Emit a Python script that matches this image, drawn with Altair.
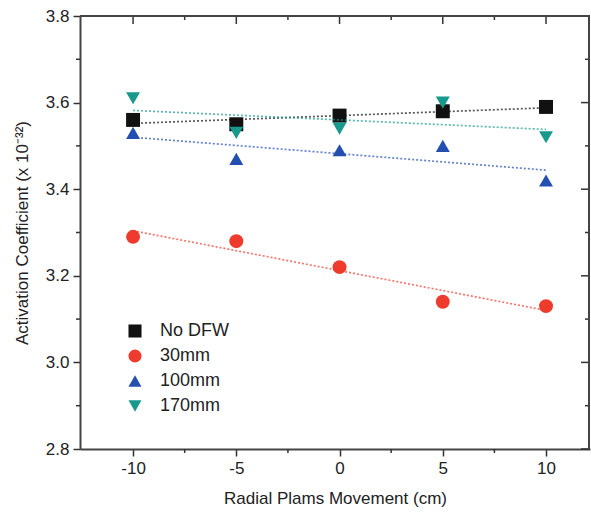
import altair as alt
import pandas as pd

x_vals = [-10, -5, 0, 5, 10]
series_names = ["No DFW", "30mm", "100mm", "170mm"]
no_dfw = [3.56, 3.55, 3.57, 3.58, 3.59]
mm30 = [3.29, 3.28, 3.22, 3.14, 3.13]
mm100 = [3.53, 3.47, 3.49, 3.50, 3.42]
mm170 = [3.61, 3.53, 3.54, 3.60, 3.52]
colors = ["#111111", "#ee3b2e", "#2350b0", "#17998c"]
shapes = ["square", "circle", "triangle-up", "triangle-down"]

rows = []
for name, vals in zip(series_names, [no_dfw, mm30, mm100, mm170]):
    for xv, yv in zip(x_vals, vals):
        rows.append({"x": xv, "y": yv, "series": name})
df = pd.DataFrame(rows)

FONT = "Liberation Sans"
W, H = 510, 433
xscale = alt.Scale(domain=[-12.57, 12.13], nice=False, zero=False)
yscale = alt.Scale(domain=[2.8, 3.8], nice=False, zero=False)
cscale = alt.Scale(domain=series_names, range=colors)
sscale = alt.Scale(domain=series_names, range=shapes)

leg = alt.Legend(title=None, orient="none", legendX=46, legendY=306)

points = alt.Chart(df).mark_point(filled=True, opacity=1, size=195).encode(
    x=alt.X("x:Q", scale=xscale,
            axis=alt.Axis(values=[-10, -5, 0, 5, 10], title="Radial Plams Movement (cm)",
                          labelExpr="datum.value + ''")),
    y=alt.Y("y:Q", scale=yscale,
            axis=alt.Axis(values=[2.8, 3.0, 3.2, 3.4, 3.6, 3.8], format=".1f",
                          title="Activation Coefficient (x 10⁻³²)")),
    color=alt.Color("series:N", scale=cscale, legend=leg),
    shape=alt.Shape("series:N", scale=sscale, legend=leg),
)

lines = alt.Chart(df).transform_regression(
    "x", "y", groupby=["series"], extent=[-10, 10]
).mark_line(strokeDash=[2, 2], strokeWidth=1.7, opacity=0.7).encode(
    x=alt.X("x:Q"),
    y=alt.Y("y:Q"),
    color=alt.Color("series:N", scale=cscale, legend=leg),
)

# minor / mirror ticks
minor_x = pd.DataFrame({"x": [-7.5, -2.5, 2.5, 7.5]})
minor_y = pd.DataFrame({"y": [2.9, 3.1, 3.3, 3.5, 3.7]})
major_x = pd.DataFrame({"x": x_vals})
major_y = pd.DataFrame({"y": [2.8, 3.0, 3.2, 3.4, 3.6, 3.8]})

def rx(d, y1, y2):
    return alt.Chart(d).mark_rule(color="#333", strokeWidth=1.5).encode(
        x=alt.X("x:Q"), y=alt.value(y1), y2=alt.value(y2))

def ry(d, x1, x2):
    return alt.Chart(d).mark_rule(color="#333", strokeWidth=1.5).encode(
        y=alt.Y("y:Q"), x=alt.value(x1), x2=alt.value(x2))

frame_right = alt.Chart(df).mark_rule(color="#444", strokeWidth=2).encode(
    x=alt.value(W - 1), y=alt.value(0), y2=alt.value(H))
frame_top = alt.Chart(df).mark_rule(color="#444", strokeWidth=2).encode(
    y=alt.value(0), x=alt.value(0), x2=alt.value(W))

chart = alt.layer(
    points, lines,
    rx(minor_x, H, H + 4), rx(minor_x, 0, 4), rx(major_x, 0, 8),
    ry(minor_y, -4, 0), ry(minor_y, W - 5, W), ry(major_y, W - 9, W),
    frame_right, frame_top,
).properties(
    width=W, height=H,
    background="white",
    autosize=alt.AutoSizeParams(type="none"),
    padding={"left": 80, "top": 16, "right": 1, "bottom": 64},
).configure_view(
    stroke=None
).configure_axis(
    grid=False, domainColor="#444", domainWidth=2, tickColor="#333", tickWidth=1.5,
    tickSize=7, labelFont=FONT, labelFontSize=17, labelColor="#222",
    titleFont=FONT, titleFontSize=17, titleColor="#222", titleFontWeight="normal",
    labelPadding=4,
).configure_axisX(
    titlePadding=14
).configure_axisY(
    titlePadding=14
).configure_legend(
    labelFont=FONT, labelFontSize=18, labelColor="#222",
    symbolSize=170, rowPadding=7, labelOffset=16, symbolStrokeWidth=0,
    symbolType="circle", symbolOpacity=1,
)

chart.save("out.html", embed_options={"renderer": "svg", "actions": False})
